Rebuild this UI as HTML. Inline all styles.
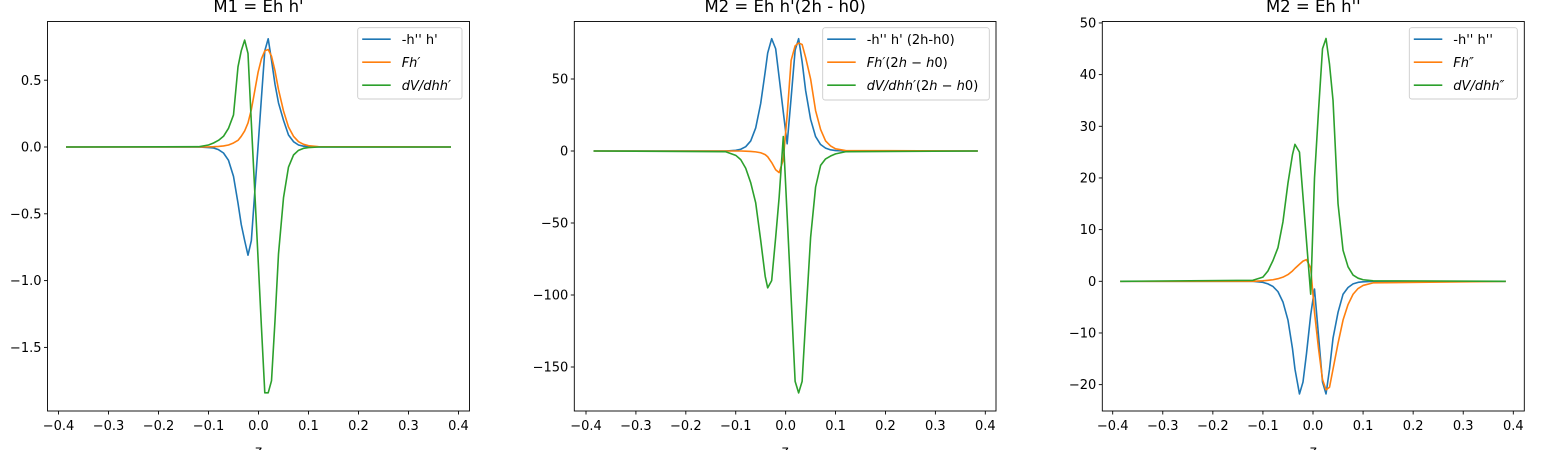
<!DOCTYPE html>
<html><head><meta charset="utf-8"><style>
body{margin:0;background:#fff;}
svg{display:block;font-family:"DejaVu Sans","Liberation Sans",sans-serif;}
</style></head><body>
<svg id="fig" width="1550" height="450" viewBox="0 0 1550 450" xmlns="http://www.w3.org/2000/svg"></svg>
<script>
// ---- chart 1 data ----
const z1 = [-0.385,-0.12,-0.1,-0.09,-0.08,-0.07,-0.06,-0.05,-0.041,-0.0345,-0.0277,-0.021,-0.0143,-0.0075,-0.0008,0.0059,0.0126,0.0194,0.026,0.033,0.04,0.05,0.06,0.07,0.08,0.09,0.1,0.12,0.385];
const blue1 = [0,0,-0.004,-0.007,-0.02,-0.045,-0.1,-0.22,-0.42,-0.58,-0.70,-0.81,-0.70,-0.34,0.01,0.37,0.72,0.81,0.65,0.47,0.33,0.2,0.09,0.04,0.015,0.006,0.002,0,0];
const orange1 = [0,0,0.001,0.002,0.004,0.008,0.015,0.03,0.05,0.08,0.12,0.18,0.28,0.42,0.56,0.66,0.72,0.73,0.68,0.57,0.43,0.27,0.15,0.08,0.04,0.02,0.01,0.002,0];
const green1 = [0,0.002,0.015,0.03,0.05,0.08,0.14,0.24,0.6,0.72,0.8,0.7,0.18,-0.33,-0.84,-1.35,-1.84,-1.84,-1.75,-1.3,-0.8,-0.38,-0.15,-0.06,-0.025,-0.01,-0.004,0,0];
// ---- chart 2 data ----
const z2 = [-0.385,-0.12,-0.1,-0.09,-0.08,-0.07,-0.06,-0.05,-0.041,-0.036,-0.028,-0.020,-0.013,-0.0047,0.003,0.011,0.019,0.026,0.033,0.04,0.05,0.06,0.07,0.08,0.09,0.1,0.12,0.385];
const blue2 = [0,0,0.5,1.2,3,7,16,33,55,68,78,71,51,27,5,37,70,78,62,42,22,10,4.5,2,0.8,0.3,0,0];
const orange2 = [0,0,0,0,-0.1,-0.3,-0.6,-1.2,-2.5,-4,-8,-13,-15,-6,25,63,73,75,74,65,50,28,15,7,3.5,1.5,0.3,0];
const green2 = [0,-0.5,-3,-6,-12,-22,-36,-62,-87,-95,-90,-60,-32,10,-45,-102,-160,-168,-160,-118,-60,-25,-10,-5.5,-3.5,-2,-0.5,0];
// ---- chart 3 data ----
const z3 = [-0.385,-0.12,-0.1,-0.09,-0.08,-0.07,-0.06,-0.05,-0.041,-0.036,-0.027,-0.02,-0.013,-0.0046,0.003,0.011,0.019,0.026,0.033,0.04,0.05,0.06,0.07,0.08,0.09,0.1,0.12,0.385];
const blue3 = [0,0,-0.2,-0.5,-1,-2,-4,-7.5,-13,-17,-21.8,-19.5,-14,-6.5,-1.5,-10.5,-19.5,-21.8,-17,-11,-6,-2.5,-1.2,-0.5,-0.2,-0.1,0,0];
const orange3 = [0,0,0.1,0.2,0.3,0.5,0.8,1.3,2,2.5,3.3,3.9,4.2,2.6,-6,-13,-19,-21,-20.5,-17,-12,-7.5,-4.5,-2.5,-1.4,-0.8,-0.3,0];
const green3 = [0,0.2,0.8,2,4,6.5,11.5,19,24.5,26.5,25,16.4,7.8,-2.5,20,33,45,47,42,35,15,6,2.8,1.2,0.6,0.3,0.1,0];
// ---- ticks ----
const xTicks = [-0.4,-0.3,-0.2,-0.1,0,0.1,0.2,0.3,0.4];
const xTickLabels = ["−0.4","−0.3","−0.2","−0.1","0.0","0.1","0.2","0.3","0.4"];
const yTicks1 = [0.5,0,-0.5,-1,-1.5];
const yTickLabels1 = ["0.5","0.0","−0.5","−1.0","−1.5"];
const yTicks2 = [50,0,-50,-100,-150];
const yTickLabels2 = ["50","0","−50","−100","−150"];
const yTicks3 = [50,40,30,20,10,0,-10,-20];
const yTickLabels3 = ["50","40","30","20","10","0","−10","−20"];

const NS="http://www.w3.org/2000/svg";
const svg=document.getElementById('fig');
function mk(tag,attrs,parent){const e=document.createElementNS(NS,tag);for(const k in attrs)e.setAttribute(k,attrs[k]);(parent||svg).appendChild(e);return e;}
const COLORS=["#1f77b4","#ff7f0e","#2ca02c"];

const charts=[
 {name:"chart-m1",title:"M1 = Eh h'",L:47.5,R:469.5,T:21.5,B:411,xa:58.5,xb:458.5,y0:147,yPer:133.6,z:z1,series:[blue1,orange1,green1],yt:yTicks1,ytl:yTickLabels1,
  leg:{x:357.7,y:27.7,w:104.3,h:71.3},labels:["-h'' h'",'<tspan font-style="italic">Fh′</tspan>','<tspan font-style="italic">dV/dhh′</tspan>']},
 {name:"chart-m2a",title:"M2 = Eh h'(2h - h0)",L:574.3,R:996,T:21.5,B:411,xa:586,xb:985.3,y0:151,yPer:1.44,z:z2,series:[blue2,orange2,green2],yt:yTicks2,ytl:yTickLabels2,
  leg:{x:822.7,y:27.7,w:166.6,h:72.3},labels:["-h'' h' (2h-h0)",'<tspan font-style="italic">Fh′</tspan>(2<tspan font-style="italic">h</tspan> − <tspan font-style="italic">h</tspan>0)','<tspan font-style="italic">dV/dhh′</tspan>(2<tspan font-style="italic">h</tspan> − <tspan font-style="italic">h</tspan>0)']},
 {name:"chart-m2b",title:"M2 = Eh h''",L:1102.3,R:1524.3,T:21.5,B:411,xa:1112.7,xb:1513.3,y0:281.3,yPer:5.167,z:z3,series:[blue3,orange3,green3],yt:yTicks3,ytl:yTickLabels3,
  leg:{x:1409.3,y:27.7,w:108,h:71.3},labels:["-h'' h''",'<tspan font-style="italic">Fh″</tspan>','<tspan font-style="italic">dV/dhh″</tspan>']}
];

charts.forEach(c=>{
  const g=mk('g',{});
  
  
  const xs=v=>c.xa+(v+0.4)*(c.xb-c.xa)/0.8;
  const ys=v=>c.y0-v*c.yPer;
  const t=mk('text',{x:(c.L+c.R)/2,y:12,'text-anchor':'middle','font-size':'16.5',fill:'#000'},g);
  t.textContent=c.title;
  
  
  c.series.forEach((s,i)=>{
    const pts=c.z.map((zv,j)=>xs(zv).toFixed(2)+','+ys(s[j]).toFixed(2)).join(' ');
    const p=mk('polyline',{points:pts,fill:'none',stroke:COLORS[i],'stroke-width':1.6,'stroke-linejoin':'round'},g);
    
    
  });
  const fr=mk('rect',{x:c.L,y:c.T,width:c.R-c.L,height:c.B-c.T,fill:'none',stroke:'#000','stroke-width':0.9},g);
  
  
  xTicks.forEach((v,i)=>{
    const x=xs(v);
    mk('line',{x1:x,x2:x,y1:c.B,y2:c.B+3.5,stroke:'#000','stroke-width':0.9},g);
    const tl=mk('text',{x:x,y:c.B+19,'text-anchor':'middle','font-size':'13',fill:'#000'},g);
    tl.textContent=xTickLabels[i];
    
    
  });
  c.yt.forEach((v,i)=>{
    const y=ys(v);
    mk('line',{x1:c.L-3.5,x2:c.L,y1:y,y2:y,stroke:'#000','stroke-width':0.9},g);
    const tl=mk('text',{x:c.L-6,y:y+4.6,'text-anchor':'end','font-size':'13',fill:'#000'},g);
    tl.textContent=c.ytl[i];
    
    
  });
  const xl=mk('text',{x:(c.L+c.R)/2,y:455,'text-anchor':'middle','font-size':'13.5',fill:'#000'},g);
  xl.textContent='z';
  
  
  const lg=mk('g',{},g);
  
  
  mk('rect',{x:c.leg.x,y:c.leg.y,width:c.leg.w,height:c.leg.h,rx:2.5,fill:'#fff','fill-opacity':0.8,stroke:'#ccc','stroke-width':0.9},lg);
  c.labels.forEach((lab,i)=>{
    const yy=c.leg.y+11.5+i*23;
    const ln=mk('line',{x1:c.leg.x+4.5,x2:c.leg.x+33,y1:yy,y2:yy,stroke:COLORS[i],'stroke-width':1.6},lg);
    
    
    const tx=mk('text',{x:c.leg.x+44,y:yy+4.6,'font-size':'13',fill:'#000'},lg);
    tx.innerHTML=lab;
    
    
  });
});
</script>
</body></html>
